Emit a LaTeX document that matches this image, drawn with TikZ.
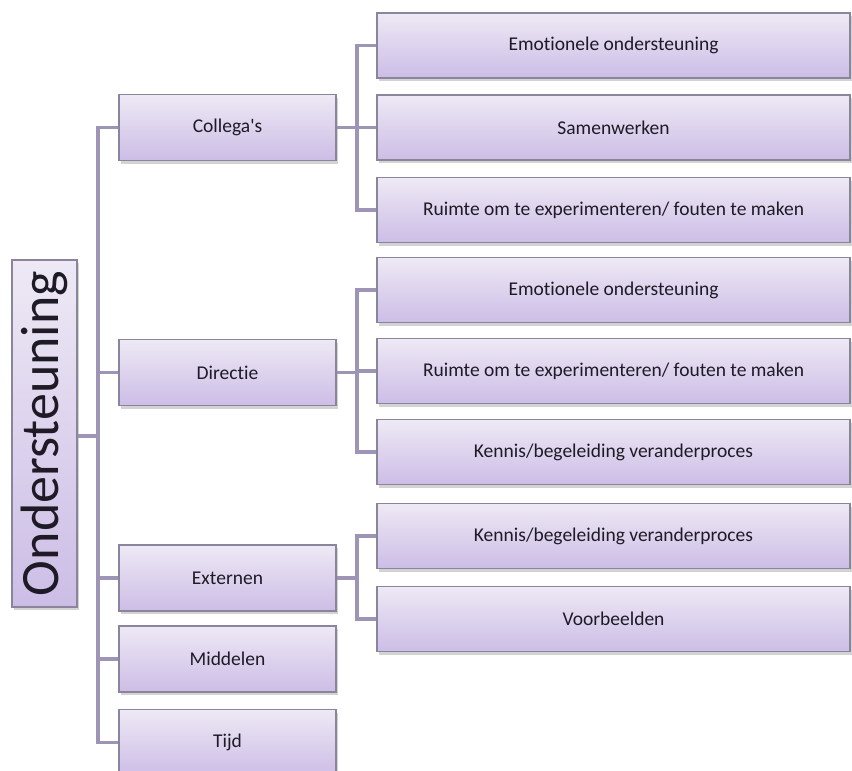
\documentclass[tikz,border=0pt]{standalone}
\usepackage{fontspec}
\setmainfont{Carlito}[Ligatures={NoCommon}]
\usepackage{graphicx}
\usetikzlibrary{shadows}
\definecolor{boxtop}{HTML}{EEE9F5}
\definecolor{boxbot}{HTML}{CCBDE6}
\definecolor{boxline}{HTML}{8A859A}
\definecolor{linkcol}{HTML}{9D94B6}
\definecolor{txt}{HTML}{1E1B26}
\begin{document}
\begin{tikzpicture}[x=1pt, y=-1pt]

      \tikzset{box/.style={draw=boxline, line width=1.2pt, top color=boxtop, bottom color=boxbot, text=txt, inner sep=0pt, font=\fontsize{19.5}{22}\selectfont, drop shadow={shadow xshift=1.5pt, shadow yshift=-3pt, opacity=.35}}}
      \tikzset{topic/.style={box, minimum width=217pt, minimum height=66pt}}
      \tikzset{item/.style={box, minimum width=473pt, minimum height=65pt}}
      \tikzset{link/.style={draw=linkcol, line width=3.5pt}}

      \useasboundingbox (0,0) rectangle (852,771);
%% Root
      	\node[box, minimum width=65pt, minimum height=347pt] (root) at (44.5,433.5) {\rotatebox{90}{\fontsize{54}{60}\selectfont Ondersteuning}};
%% Topics
      	\node[topic] (col) at (227.5,127.5) {Collega\textquotesingle s};
      	\node[topic] (dir) at (227.5,372.5) {Directie};
      	\node[topic] (ext) at (227.5,578) {Externen};
      	\node[topic] (mid) at (227.5,659) {Middelen};
      	\node[topic] (tijd) at (227.5,742.5) {Tijd};
%% Items
      	\node[item] (col1) at (613.5,45.5) {Emotionele ondersteuning};
      	\node[item] (col2) at (613.5,127.5) {Samenwerken};
      	\node[item] (col3) at (613.5,210) {Ruimte om te experimenteren/ fouten te maken};
      	\node[item] (dir1) at (613.5,290) {Emotionele ondersteuning};
      	\node[item] (dir2) at (613.5,371) {Ruimte om te experimenteren/ fouten te maken};
      	\node[item] (dir3) at (613.5,452) {Kennis/begeleiding veranderproces};
      	\node[item] (ext1) at (613.5,536) {Kennis/begeleiding veranderproces};
      	\node[item] (ext2) at (613.5,619) {Voorbeelden};
%Branch points
      	\coordinate (t0) at (98,436);
      	\coordinate (tcol) at (357,127.5);
      	\coordinate (tdir) at (357,372.5);
      	\coordinate (text) at (357,578);
%Connectors
		\draw[link] (root.east |- t0) -- (t0);
		\foreach \n in {col, dir, ext, mid, tijd}
			\draw[link] (t0) |- (\n.west);
		\draw[link] (col.east) -- (tcol);
		\foreach \n in {col1, col2, col3}
			\draw[link] (tcol) |- (\n.west);
		\draw[link] (dir.east) -- (tdir);
		\foreach \n in {dir1, dir2, dir3}
			\draw[link] (tdir) |- (\n.west);
		\draw[link] (ext.east) -- (text);
		\foreach \n in {ext1, ext2}
			\draw[link] (text) |- (\n.west);

	\end{tikzpicture}
\end{document}
